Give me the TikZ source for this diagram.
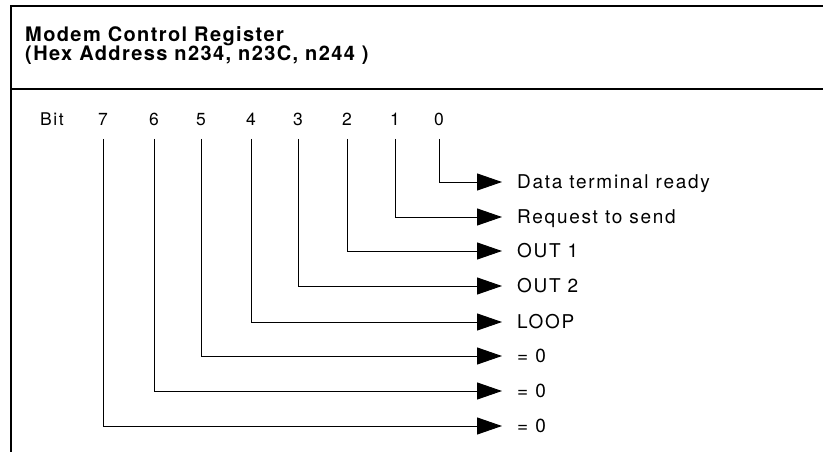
\documentclass[tikz,border=0pt]{standalone}
\usepackage{fontspec}
\setmainfont{TeX Gyre Heros}[LetterSpace=9]
\newfontfamily\titlefont{TeX Gyre Heros}[LetterSpace=7]
\usetikzlibrary{arrows.meta}
\begin{document}
\begin{tikzpicture}[x=1pt,y=-1pt,
  frame/.style={line width=1.2pt},
  conn/.style={line width=1pt},
  arr/.style={conn,-{Triangle[length=25pt,width=17pt]},shorten >=15pt},
  bitlbl/.style={font=\fontsize{17.5}{19}\selectfont, anchor=base, inner sep=0pt},
  outlbl/.style={font=\fontsize{19}{21}\selectfont, anchor=west, inner sep=0pt, text height=13.5pt, text depth=0pt},
  titlelbl/.style={font=\titlefont\fontsize{20}{22}\selectfont\bfseries, anchor=base west, inner sep=0pt}]
\useasboundingbox (0,0) rectangle (823,452);
\coordinate (fb) at (11,452);
\coordinate (ftl) at (11,6);
\coordinate (ftr) at (823,6);
\coordinate (fml) at (11,89);
\coordinate (fmr) at (823,89);
\draw[frame] (fb) -- (ftl) -- (ftr);
\draw[frame] (fml) -- (fmr);
\node[titlelbl] (t1) at (25,41.5) {Modem Control Register};
\node[titlelbl] (t2) at (25,60.5) {(Hex Address n234, n23C, n244 )};
\node[bitlbl, anchor=base west] (bit) at (40,125) {Bit};
\foreach \i/\x/\y/\t in {0/439/182/Data terminal ready,1/395/217/Request to send,2/347/251/OUT 1,3/298/286/OUT 2,4/251/322/LOOP,5/201/356/= 0,6/154/391/= 0,7/103/426/= 0}{
  \node[bitlbl] (b\i) at (\x,125) {\i};
  \coordinate (v\i) at (\x,139);
  \node[outlbl] (o\i) at (517,\y) {\t};
  \draw[arr] (v\i) |- (o\i.west);
}
\end{tikzpicture}
\end{document}
